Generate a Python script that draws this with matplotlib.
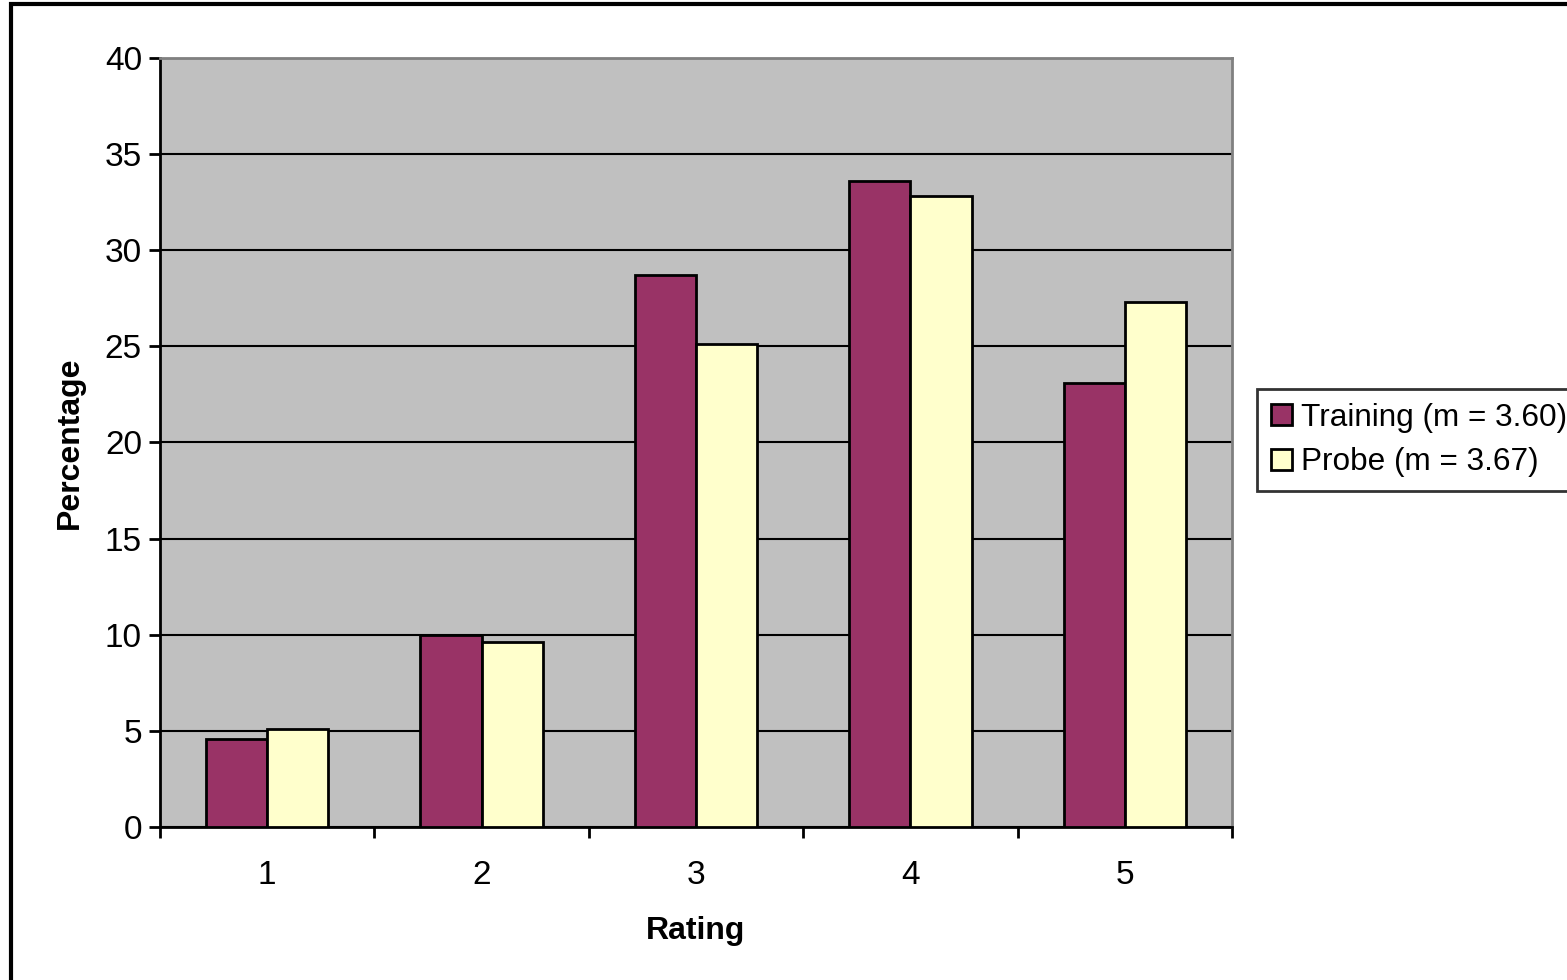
import matplotlib.pyplot as plt
import numpy as np
from matplotlib.patches import Rectangle

plt.rcParams['font.family'] = ['Liberation Sans', 'DejaVu Sans']

# data
ratings = ['1', '2', '3', '4', '5']
training = [4.6, 10.0, 28.7, 33.6, 23.1]
probe = [5.1, 9.6, 25.1, 32.8, 27.3]
labels = ['Training (m = 3.60)', 'Probe (m = 3.67)']

fig = plt.figure(figsize=(15.67, 9.8), dpi=100)
ax = fig.add_axes([160 / 1567, 153 / 980, 1072 / 1567, 769 / 980])
ax.set_facecolor('#C0C0C0')

x = np.arange(1, len(ratings) + 1)
w = 1 / 3.5
ax.bar(x - w / 2, training, w, color='#993366', edgecolor='black', linewidth=2,
       label=labels[0], zorder=3)
ax.bar(x + w / 2, probe, w, color='#FFFFCC', edgecolor='black', linewidth=2,
       label=labels[1], zorder=3)

ax.set_xlim(0.5, len(ratings) + 0.5)
ax.set_ylim(0, 40)
ax.set_yticks(np.arange(0, 41, 5))
ax.yaxis.grid(True, color='black', linewidth=1.5, zorder=1)
ax.set_axisbelow(True)

# category boundaries as major ticks, labels on minor ticks
ax.set_xticks(np.arange(0.5, len(ratings) + 1, 1))
ax.set_xticklabels([])
ax.set_xticks(x, minor=True)
ax.set_xticklabels(ratings, minor=True)
ax.tick_params(axis='x', which='minor', length=0, pad=24, labelsize=24)
ax.tick_params(axis='x', which='major', length=8, width=2, direction='out')
ax.tick_params(axis='y', length=8, width=2, direction='out', labelsize=24, pad=5)

for s in ['top', 'right']:
    ax.spines[s].set_color('#808080')
    ax.spines[s].set_linewidth(2)
for s in ['left', 'bottom']:
    ax.spines[s].set_color('black')
    ax.spines[s].set_linewidth(2)

ax.set_xlabel('Rating', fontsize=23, fontweight='bold', labelpad=18)
ax.set_ylabel('Percentage', fontsize=23, fontweight='bold', labelpad=14)

leg = fig.legend(loc='center left', bbox_to_anchor=(1257 / 1567, 0.551),
                 fontsize=22.7, frameon=True, fancybox=False, edgecolor='black',
                 handlelength=0.65, handleheight=0.65, handletextpad=0.3,
                 borderpad=0.45, labelspacing=0.45, borderaxespad=0)
leg.get_frame().set_linewidth(2)

# outer chart border
fig.patches.append(Rectangle((11 / 1567, -0.01), 1.02, 0.01 + 976 / 980,
                             transform=fig.transFigure, fill=False,
                             edgecolor='black', linewidth=3))

fig.savefig('out.png', dpi=100)
